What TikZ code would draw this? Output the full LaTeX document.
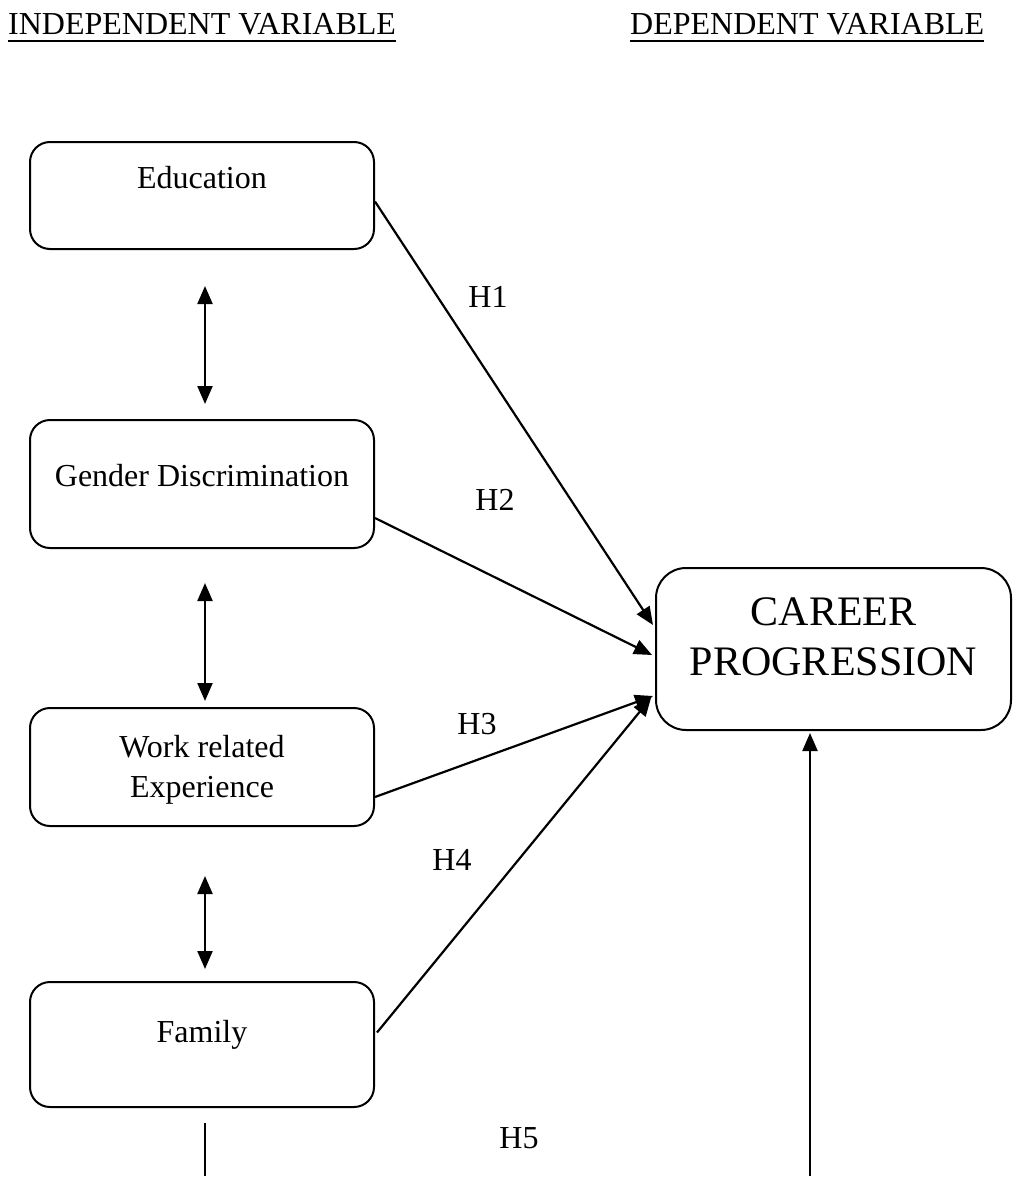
\documentclass[tikz,border=0pt]{standalone}
\usepackage{fontspec}
\setmainfont{Liberation Serif}
\usetikzlibrary{arrows.meta,calc}
\begin{document}
\begin{tikzpicture}[x=1pt,y=-1pt,
  box/.style={draw, line width=2pt, rounded corners=20pt, minimum width=344pt, minimum height=#1, inner sep=0pt},
  lbl/.style={font=\fontsize{32}{40}\selectfont, inner sep=0pt, align=center},
  conn/.style={line width=2.2pt, -{Triangle[length=18pt,width=15pt]}},
  dbl/.style={line width=2.2pt, {Triangle[length=18pt,width=15pt]}-{Triangle[length=18pt,width=15pt]}},
  plain/.style={line width=2.2pt}
]
\useasboundingbox (0,0) rectangle (1013,1178);

% headers
\node[lbl, anchor=base west] (hind) at (8,34) {INDEPENDENT VARIABLE};
\node[lbl, anchor=base west] (hdep) at (630,34) {DEPENDENT VARIABLE};
\draw[line width=2.4pt] ([yshift=-7pt]hind.base west) -- ([yshift=-7pt]hind.base east);
\draw[line width=2.4pt] ([yshift=-7pt]hdep.base west) -- ([yshift=-7pt]hdep.base east);

% boxes
\node[box=107pt] (edu) at (202,195.5) {};
\node[box=128pt] (gen) at (202,484) {};
\node[box=118pt] (work) at (202,767) {};
\node[box=125pt] (fam) at (202,1044.5) {};
\node[draw, line width=2pt, rounded corners=30pt, minimum width=355pt, minimum height=162pt, inner sep=0pt] (car) at (833.5,649) {};

% texts
\node[lbl] (tedu) at (202,178) {Education};
\node[lbl] (tgen) at (202,476) {Gender Discrimination};
\node[lbl] (twork) at (202,770) {Work related\\Experience};
\node[lbl] (tfam) at (202,1035) {Family};
\node[lbl, font=\fontsize{42}{50}\selectfont] (tcar) at (833.5,637) {CAREER\\PROGRESSION};

% hypothesis labels
\node[lbl] (h1) at (488,297) {H1};
\node[lbl] (h2) at (495,500) {H2};
\node[lbl] (h3) at (477,724) {H3};
\node[lbl] (h4) at (452,860) {H4};
\node[lbl] (h5) at (519,1138) {H5};

% double arrows
\draw[dbl] ([xshift=3pt,yshift=-36pt]edu.south) -- ([xshift=3pt,yshift=15pt]gen.north);
\draw[dbl] ([xshift=3pt,yshift=-34pt]gen.south) -- ([xshift=3pt,yshift=6pt]work.north);
\draw[dbl] ([xshift=3pt,yshift=-49pt]work.south) -- ([xshift=3pt,yshift=12pt]fam.north);

% hypothesis arrows
\draw[conn] ([yshift=-6pt]edu.east) -- ([xshift=-2pt,yshift=24pt]car.west);
\draw[conn] ([yshift=-34pt]gen.east) -- ([xshift=-3pt,yshift=-6pt]car.west);
\draw[conn] ([yshift=-30pt]work.east) -- ([xshift=-2pt,yshift=-47pt]car.west);
\draw[conn] ([xshift=2pt,yshift=12pt]fam.east) -- ([xshift=-4pt,yshift=-49pt]car.west);

% bottom lines
\coordinate (fend) at (205,1176);
\coordinate (cstart) at (810,1176);
\draw[plain] ([xshift=3pt,yshift=-15pt]fam.south) -- (fend);
\draw[conn] (cstart) -- ([xshift=-23.5pt,yshift=-2pt]car.south);
\end{tikzpicture}
\end{document}
